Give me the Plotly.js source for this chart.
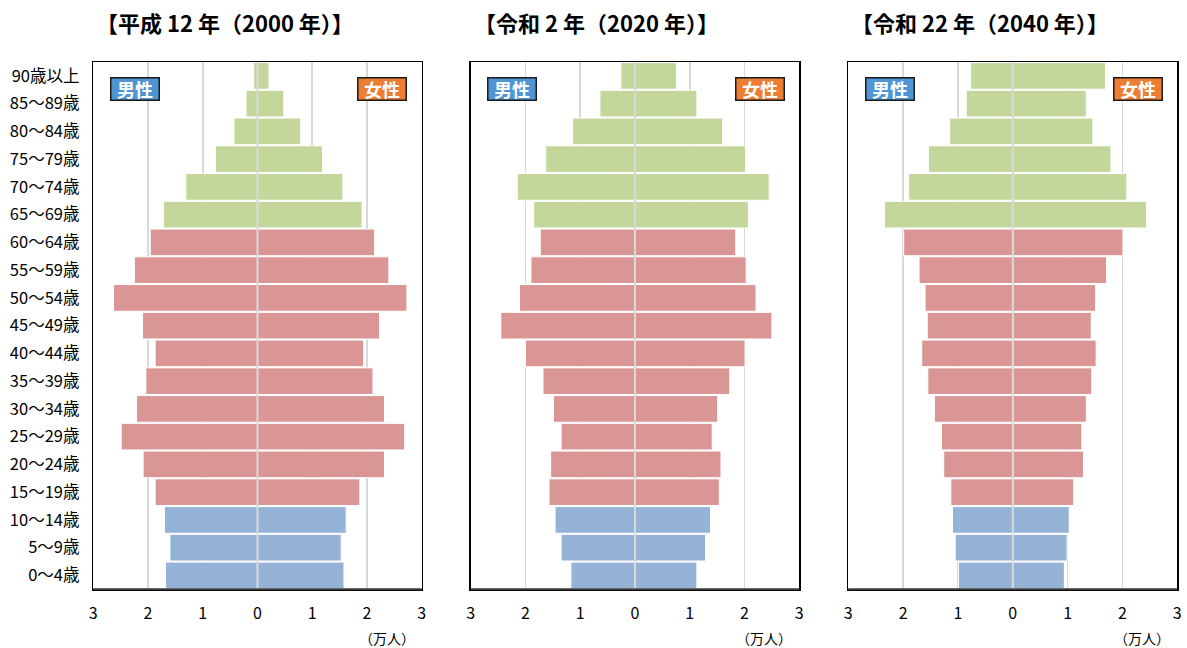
<!DOCTYPE html>
<html>
<head>
<meta charset="utf-8">
<script src="https://cdn.plot.ly/plotly-3.0.1.min.js"></script>
<style>
html,body{margin:0;padding:0;background:#fff;}
#chart{width:1187px;height:648px;}
</style>
</head>
<body>
<div id="chart"></div>
<script>
// Age groups, bottom (youngest) to top (oldest)
const ageGroups = ["0～4歳","5～9歳","10～14歳","15～19歳","20～24歳","25～29歳","30～34歳","35～39歳","40～44歳","45～49歳","50～54歳","55～59歳","60～64歳","65～69歳","70～74歳","75～79歳","80～84歳","85～89歳","90歳以上"];
// Group of each age class: 0 = young, 1 = working age, 2 = elderly
const ageClass = [0,0,0,1,1,1,1,1,1,1,1,1,1,2,2,2,2,2,2];

const panelTitles = ["【平成 12 年（2000 年）】","【令和 2 年（2020 年）】","【令和 22 年（2040 年）】"];

// Population, 10,000 persons (万人)
const male2000   = [1.68,1.60,1.70,1.87,2.09,2.49,2.21,2.04,1.87,2.10,2.63,2.25,1.96,1.72,1.31,0.77,0.43,0.21,0.07];
const female2000 = [1.58,1.53,1.62,1.87,2.32,2.69,2.32,2.11,1.94,2.23,2.73,2.40,2.14,1.91,1.56,1.19,0.79,0.48,0.21];
const male2020   = [1.17,1.35,1.46,1.57,1.54,1.35,1.49,1.68,2.00,2.45,2.11,1.90,1.73,1.85,2.15,1.63,1.14,0.64,0.26];
const female2020 = [1.13,1.29,1.38,1.54,1.57,1.41,1.51,1.73,2.01,2.50,2.21,2.03,1.84,2.07,2.45,2.02,1.60,1.13,0.76];
const male2040   = [0.99,1.05,1.10,1.13,1.26,1.30,1.43,1.55,1.66,1.56,1.60,1.71,1.99,2.34,1.90,1.54,1.15,0.85,0.77];
const female2040 = [0.94,0.99,1.03,1.11,1.29,1.26,1.34,1.44,1.52,1.43,1.51,1.71,2.01,2.44,2.08,1.79,1.46,1.34,1.69];

const xTickVals = [-3,-2,-1,0,1,2,3];
const xTickText = ["3","2","1","0","1","2","3"];
const legendLabels = ["男性","女性"];
const unitLabel = "（万人）";

const classColors = ["#95B3D7","#DA9694","#C4D79B"];
const barColors = ageClass.map(c => classColors[c]);

const JP = "'Noto Sans CJK JP', 'Noto Sans', sans-serif";
const W = 1187, H = 648;
const xPix = [[93.3,421.7],[470.7,799.3],[848.3,1177.3]];
const yTop = 62, yBot = 589.3;

const series = [[male2000,female2000],[male2020,female2020],[male2040,female2040]];

const traces = [];
const layout = {
  width: W, height: H,
  margin: {l:0,r:0,t:0,b:0},
  paper_bgcolor: "#fff", plot_bgcolor: "#fff",
  barmode: "relative",
  bargap: 0.04,
  showlegend: false,
  font: {family: JP, color: "#000"},
  annotations: [],
  shapes: []
};

series.forEach((pair, i) => {
  const n = i === 0 ? "" : String(i+1);
  const xa = "x"+n, ya = "y"+n;
  traces.push({
    type: "bar", orientation: "h", xaxis: xa, yaxis: ya,
    y: ageGroups, x: pair[0].map(v => -v),
    marker: {color: barColors, line: {color: "#fff", width: 1}},
    hoverinfo: "skip"
  });
  traces.push({
    type: "bar", orientation: "h", xaxis: xa, yaxis: ya,
    y: ageGroups, x: pair[1],
    marker: {color: barColors, line: {color: "#fff", width: 1}},
    hoverinfo: "skip"
  });
  layout["xaxis"+n] = {
    domain: [xPix[i][0]/W, xPix[i][1]/W],
    anchor: ya,
    range: [-3,3],
    tickvals: xTickVals, ticktext: xTickText,
    showgrid: true, gridcolor: "#D9D9D9", gridwidth: 1.5,
    zeroline: false,
    showline: true, mirror: true, linecolor: "#000", linewidth: 1.5,
    ticks: "", ticklabelstandoff: 9,
    tickfont: {family: JP, size: 16, color: "#000"},
    fixedrange: true
  };
  layout["yaxis"+n] = {
    domain: [1-yBot/H, 1-yTop/H],
    anchor: xa,
    type: "category",
    categoryorder: "array", categoryarray: ageGroups,
    range: [-0.5, ageGroups.length-0.5],
    showgrid: false, zeroline: false,
    showline: true, mirror: true, linecolor: "#000", linewidth: 1.5,
    showticklabels: i === 0,
    ticks: "", ticklabelstandoff: 9,
    tickfont: {family: JP, size: 16.5, color: "#000"},
    fixedrange: true
  };
  // zero line above bars
  layout.shapes.push({
    type: "line", xref: xa, yref: ya+" domain",
    x0: 0, x1: 0, y0: 0, y1: 1, layer: "above",
    line: {color: "#D9D9D9", width: 2}
  });
  // bottom border (darker)
  layout.shapes.push({
    type: "line", xref: xa+" domain", yref: ya+" domain",
    x0: 0, x1: 1, y0: 0, y1: 0, layer: "above",
    line: {color: "#3a3a3a", width: 2}
  });
  // panel title
  layout.annotations.push({
    text: "<b>"+panelTitles[i]+"</b>",
    xref: xa+" domain", yref: "paper",
    x: 0, y: 1-22/H, xanchor: "left", yanchor: "middle",
    xshift: 1,
    showarrow: false,
    font: {family: JP, size: 22, color: "#000"}
  });
  // legend boxes
  layout.annotations.push({
    text: "<b>"+legendLabels[0]+"</b>",
    xref: xa+" domain", yref: ya+" domain",
    x: 0.1255, y: 0.948, xanchor: "center", yanchor: "middle",
    showarrow: false, width: 47, height: 21,
    bgcolor: "#4F95D4", bordercolor: "#1a1a1a", borderwidth: 1.5, borderpad: 0,
    font: {family: JP, size: 18, color: "#fff"}
  });
  layout.annotations.push({
    text: "<b>"+legendLabels[1]+"</b>",
    xref: xa+" domain", yref: ya+" domain",
    x: 0.8806, y: 0.948, xanchor: "center", yanchor: "middle",
    showarrow: false, width: 47, height: 21,
    bgcolor: "#ED7D31", bordercolor: "#1a1a1a", borderwidth: 1.5, borderpad: 0,
    font: {family: JP, size: 18, color: "#fff"}
  });
  // unit label
  layout.annotations.push({
    text: unitLabel,
    xref: xa+" domain", yref: "paper",
    x: 1, y: 1-637.5/H, xanchor: "right", yanchor: "middle",
    xshift: -5,
    showarrow: false,
    font: {family: JP, size: 14, color: "#000"}
  });
});

Plotly.newPlot("chart", traces, layout, {displayModeBar: false, staticPlot: true});
</script>
</body>
</html>
